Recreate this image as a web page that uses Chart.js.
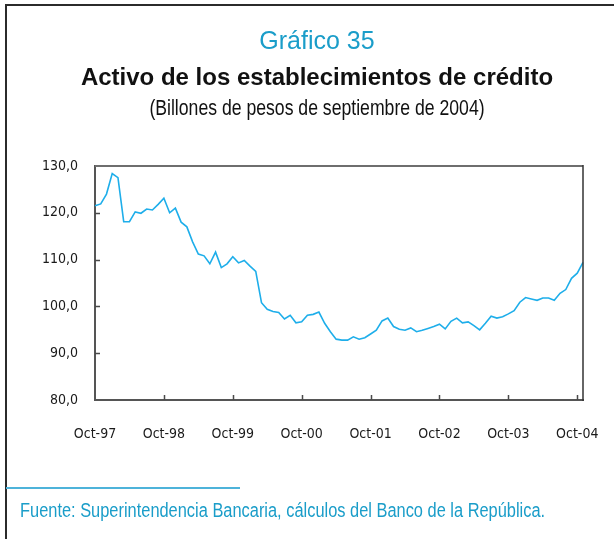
<!DOCTYPE html>
<html lang="es">
<head>
<meta charset="utf-8">
<script src="https://cdn.jsdelivr.net/npm/chart.js@4.4.1/dist/chart.umd.min.js"></script>
<style>
  html, body { margin: 0; padding: 0; background: #fff; }
  #page { position: relative; width: 614px; height: 539px; overflow: hidden; }
  #frame { position: absolute; left: 5px; top: 4px; width: 700px; height: 700px;
           border-left: 2px solid #2b2b2b; border-top: 2px solid #2b2b2b; }
  #chart { position: absolute; left: 0; top: 0; }
  .txt { position: absolute; left: 20px; width: 594px; text-align: center; white-space: nowrap; }
  /* narrow faces are emulated by squeezing Liberation Sans horizontally */
  .narrow { transform: scaleX(0.82); }
  #num { top: 28px; font: 25px/25px "Liberation Sans", Arial, sans-serif; color: #1a9dc9; }
  #titulo { top: 65px; font: bold 24px/24px "Liberation Sans", Arial, sans-serif; color: #111; }
  #unidad { top: 98px; font: 21.5px/21.5px "Liberation Sans", Arial, sans-serif; color: #111; transform-origin: 297px 0; }
  #regla { position: absolute; left: 6px; top: 487px; width: 234px; height: 2px; background: #4db3da; }
  #fuente { position: absolute; left: 20px; top: 500px; white-space: nowrap; transform-origin: 0 0;
            font: 20px/20px "Liberation Sans", Arial, sans-serif; color: #1a9dc9; }
</style>
</head>
<body>
<div id="page">
  <div id="frame"></div>
  <canvas id="chart" width="614" height="539"></canvas>
  <div class="txt" id="num">Gráfico 35</div>
  <div class="txt" id="titulo">Activo de los establecimientos de crédito</div>
  <div class="txt narrow" id="unidad">(Billones de pesos de septiembre de 2004)</div>
  <div id="regla"></div>
  <div class="narrow" id="fuente">Fuente: Superintendencia Bancaria, cálculos del Banco de la República.</div>
</div>
<script>
// Monthly series, Oct-97 .. Nov-04
const activo = [
  121.5, 121.9, 124.0, 128.4, 127.5, 118.1, 118.1, 120.2, 119.9, 120.8, 120.6, 121.8,
  123.1, 120.0, 121.0, 118.0, 117.0, 113.8, 111.2, 110.8, 109.1, 111.6, 108.3, 109.1,
  110.6, 109.3, 109.8, 108.6, 107.5, 100.8,  99.4,  98.9,  98.7,  97.3,  98.1,  96.5,
   96.7,  98.1,  98.3,  98.8,  96.4,  94.6,  93.0,  92.8,  92.8,  93.5,  93.0,  93.3,
   94.1,  94.9,  96.9,  97.5,  95.7,  95.1,  94.9,  95.4,  94.6,  94.9,  95.3,  95.7,
   96.2,  95.2,  96.8,  97.5,  96.5,  96.7,  95.9,  95.0,  96.4,  97.9,  97.5,  97.8,
   98.4,  99.1, 100.9, 101.9, 101.6, 101.3, 101.8, 101.8, 101.3, 102.8, 103.6, 106.0,
  107.1, 109.4
];

const monthNames = ['Oct', 'Nov', 'Dic', 'Ene', 'Feb', 'Mar', 'Abr', 'May', 'Jun', 'Jul', 'Ago', 'Sep'];
const xTickLabels = ['Oct-97', 'Oct-98', 'Oct-99', 'Oct-00', 'Oct-01', 'Oct-02', 'Oct-03', 'Oct-04'];
const yTicks = [80, 90, 100, 110, 120, 130];

// one label per month, starting in October 1997
const months = activo.map((_, i) => {
  const yr = 97 + Math.floor((i + 9) / 12);
  return monthNames[i % 12] + '-' + String(yr % 100).padStart(2, '0');
});

const axisFont = { family: '"DejaVu Sans Condensed", "Liberation Sans", sans-serif', size: 14 };

// plot box top/right edges plus the short inward tick marks
const innerTicks = {
  id: 'innerTicks',
  afterDraw(chart) {
    const { ctx, chartArea: a, scales: { x, y } } = chart;
    ctx.save();
    ctx.lineCap = 'butt';
    ctx.strokeStyle = '#6e6e6e';
    ctx.lineWidth = 2;
    ctx.beginPath();
    ctx.moveTo(a.left, a.top);
    ctx.lineTo(a.right, a.top);
    ctx.stroke();
    ctx.strokeStyle = '#333';
    ctx.lineWidth = 1.5;
    ctx.beginPath();
    ctx.moveTo(a.right, a.top - 1);
    ctx.lineTo(a.right, a.bottom + 1);
    ctx.stroke();

    ctx.strokeStyle = '#4a4a4a';
    ctx.lineWidth = 1.5;
    ctx.beginPath();
    yTicks.slice(1, -1).forEach(v => {
      const py = Math.round(y.getPixelForValue(v)) + 0.5;
      ctx.moveTo(a.left, py);
      ctx.lineTo(a.left + 5, py);
    });
    xTickLabels.forEach((_, k) => {
      if (k === 0) return;
      const px = Math.round(x.getPixelForValue(k * 12)) + 0.5;
      ctx.moveTo(px, a.bottom);
      ctx.lineTo(px, a.bottom - 5);
    });
    ctx.stroke();
    ctx.restore();
  }
};

new Chart(document.getElementById('chart'), {
  type: 'line',
  data: {
    labels: months,
    datasets: [{
      data: activo,
      borderColor: '#1eaeea',
      borderWidth: 1.6,
      pointRadius: 0,
      tension: 0,
      fill: false
    }]
  },
  options: {
    responsive: false,
    devicePixelRatio: 1,
    animation: false,
    layout: { padding: { top: 166, right: 31, left: 0, bottom: 0 } },
    plugins: {
      legend: { display: false },
      tooltip: { enabled: false }
    },
    scales: {
      x: {
        type: 'category',
        offset: false,
        afterFit: (s) => { s.height = 139; },
        grid: { drawOnChartArea: false, drawTicks: false },
        border: { color: '#555', width: 2 },
        ticks: {
          autoSkip: false,
          maxRotation: 0,
          padding: 26,
          color: '#1a1a1a',
          font: axisFont,
          callback: (v, i) => (i % 12 === 0 ? xTickLabels[i / 12] : '')
        }
      },
      y: {
        min: 80,
        max: 130,
        afterFit: (s) => { s.width = 95; },
        afterBuildTicks: (s) => { s.ticks = yTicks.map(v => ({ value: v })); },
        grid: { drawOnChartArea: false, drawTicks: false },
        border: { color: '#555', width: 2 },
        ticks: {
          padding: 17,
          color: '#1a1a1a',
          font: axisFont,
          callback: (v) => v.toFixed(1).replace('.', ',')
        }
      }
    }
  },
  plugins: [innerTicks]
});
</script>
</body>
</html>
